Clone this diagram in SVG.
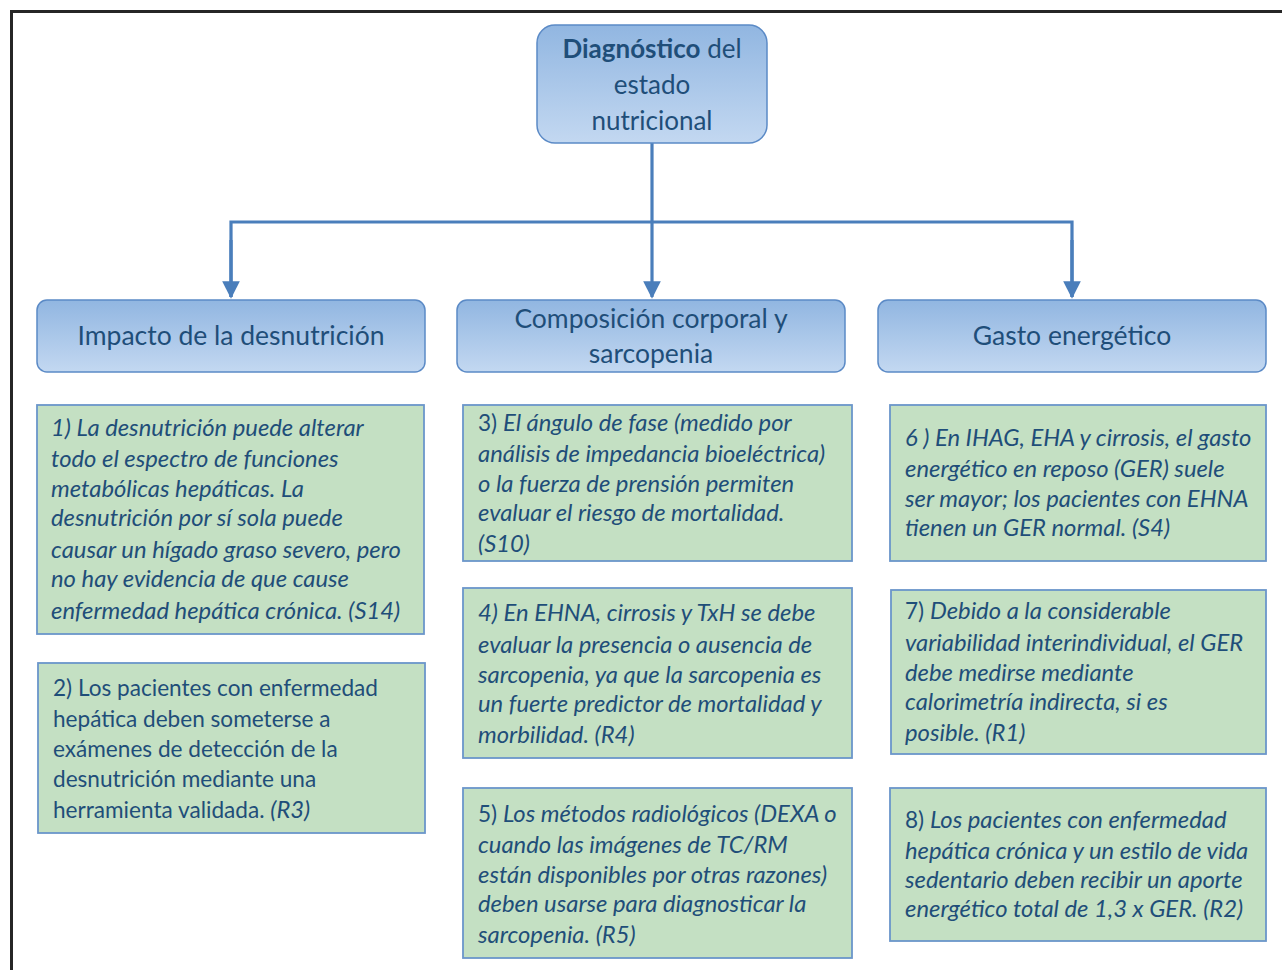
<svg xmlns="http://www.w3.org/2000/svg" width="1282" height="970" viewBox="0 0 1282 970">
<defs>
<linearGradient id="blueGrad" x1="0" y1="0" x2="0" y2="1">
<stop offset="0" stop-color="#91b6e1"/>
<stop offset="1" stop-color="#c3d8f1"/>
</linearGradient>
<marker id="arrow" viewBox="0 0 10 10" refX="9" refY="5" markerWidth="5.5" markerHeight="5.5" orient="auto" markerUnits="strokeWidth">
<path d="M0,0 L10,5 L0,10 z" fill="#4a7ebb"/>
</marker>
</defs>
<style>
.frame{fill:none;stroke:#262626;stroke-width:3}
.blue{fill:url(#blueGrad);stroke:#5b8ac6;stroke-width:1.5}
.green{fill:#c4e0c3;stroke:#6b96ca;stroke-width:1.8}
.conn{fill:none;stroke:#4a7ebb;stroke-width:3.2}
.t{font-family:Lato,"Open Sans","Liberation Sans",sans-serif;fill:#1f4e79}
.title{font-size:26px;text-anchor:middle}
.head{font-size:26.5px;text-anchor:middle}
.body{font-size:22.6px}
.i{font-style:italic;font-size:23.8px}
.b{font-weight:bold}
</style>
<rect x="0" y="0" width="1282" height="970" fill="#ffffff"/>
<path class="frame" d="M11.5,970 L11.5,11.5 L1282,11.5"/>

<g id="connectors">
<path class="conn" d="M652,143 L652,297" marker-end="url(#arrow)"/>
<path class="conn" d="M231,297 L231,222 L1072,222 L1072,297" />
<path class="conn" d="M231,240 L231,297" marker-end="url(#arrow)"/>
<path class="conn" d="M1072,240 L1072,297" marker-end="url(#arrow)"/>
</g>

<g id="root">
<rect class="blue" x="537" y="25" width="230" height="118" rx="18"/>
<text class="t title" x="652" y="58"><tspan class="b">Diagnóstico</tspan> del</text>
<text class="t title" x="652" y="94">estado</text>
<text class="t title" x="652" y="130">nutricional</text>
</g>

<g id="h1">
<rect class="blue" x="37" y="300" width="388" height="72" rx="10"/>
<text class="t head" x="231" y="345">Impacto de la desnutrición</text>
</g>
<g id="h2">
<rect class="blue" x="457" y="300" width="388" height="72" rx="10"/>
<text class="t head" x="651" y="328">Composición corporal y</text>
<text class="t head" x="651" y="363">sarcopenia</text>
</g>
<g id="h3">
<rect class="blue" x="878" y="300" width="388" height="72" rx="10"/>
<text class="t head" x="1072" y="345">Gasto energético</text>
</g>

<g id="n1">
<rect class="green" x="37" y="405" width="387" height="229"/>
<text class="t body i" x="51" y="436">1) La desnutrición puede alterar</text>
<text class="t body i" x="51" y="467">todo el espectro de funciones</text>
<text class="t body i" x="51" y="497">metabólicas hepáticas. La</text>
<text class="t body i" x="51" y="526">desnutrición por sí sola puede</text>
<text class="t body i" x="51" y="558">causar un hígado graso severo, pero</text>
<text class="t body i" x="51" y="587">no hay evidencia de que cause</text>
<text class="t body i" x="51" y="619">enfermedad hepática crónica. (S14)</text>
</g>

<g id="n2">
<rect class="green" x="38" y="663" width="387" height="170"/>
<text class="t body" x="53" y="696">2) Los pacientes con enfermedad</text>
<text class="t body" x="53" y="727">hepática deben someterse a</text>
<text class="t body" x="53" y="757">exámenes de detección de la</text>
<text class="t body" x="53" y="787">desnutrición mediante una</text>
<text class="t body" x="53" y="818">herramienta validada. <tspan class="i">(R3)</tspan></text>
</g>

<g id="n3">
<rect class="green" x="463" y="405" width="389" height="156"/>
<text class="t body" x="478" y="431">3) <tspan class="i">El ángulo de fase (medido por</tspan></text>
<text class="t body i" x="478" y="462">análisis de impedancia bioeléctrica)</text>
<text class="t body i" x="478" y="492">o la fuerza de prensión permiten</text>
<text class="t body i" x="478" y="521">evaluar el riesgo de mortalidad.</text>
<text class="t body i" x="478" y="552">(S10)</text>
</g>

<g id="n4">
<rect class="green" x="463" y="588" width="389" height="170"/>
<text class="t body i" x="478" y="621">4) En EHNA, cirrosis y TxH se debe</text>
<text class="t body i" x="478" y="653">evaluar la presencia o ausencia de</text>
<text class="t body i" x="478" y="683">sarcopenia, ya que la sarcopenia es</text>
<text class="t body i" x="478" y="712">un fuerte predictor de mortalidad y</text>
<text class="t body i" x="478" y="743">morbilidad. (R4)</text>
</g>

<g id="n5">
<rect class="green" x="463" y="788" width="389" height="170"/>
<text class="t body" x="478" y="822">5) <tspan class="i">Los métodos radiológicos (DEXA o</tspan></text>
<text class="t body i" x="478" y="853">cuando las imágenes de TC/RM</text>
<text class="t body i" x="478" y="883">están disponibles por otras razones)</text>
<text class="t body i" x="478" y="912">deben usarse para diagnosticar la</text>
<text class="t body i" x="478" y="943">sarcopenia. (R5)</text>
</g>

<g id="n6">
<rect class="green" x="890" y="405" width="376" height="156"/>
<text class="t body i" x="905" y="446">6 ) En IHAG, EHA y cirrosis, el gasto</text>
<text class="t body i" x="905" y="477">energético en reposo (GER) suele</text>
<text class="t body i" x="905" y="507">ser mayor; los pacientes con EHNA</text>
<text class="t body i" x="905" y="536">tienen un GER normal. (S4)</text>
</g>

<g id="n7">
<rect class="green" x="891" y="590" width="375" height="164"/>
<text class="t body" x="905" y="619">7) <tspan class="i">Debido a la considerable</tspan></text>
<text class="t body i" x="905" y="651">variabilidad interindividual, el GER</text>
<text class="t body i" x="905" y="681">debe medirse mediante</text>
<text class="t body i" x="905" y="710">calorimetría indirecta, si es</text>
<text class="t body i" x="905" y="741">posible. (R1)</text>
</g>

<g id="n8">
<rect class="green" x="890" y="788" width="376" height="153"/>
<text class="t body" x="905" y="828">8) <tspan class="i">Los pacientes con enfermedad</tspan></text>
<text class="t body i" x="905" y="859">hepática crónica y un estilo de vida</text>
<text class="t body i" x="905" y="888">sedentario deben recibir un aporte</text>
<text class="t body i" x="905" y="917">energético total de 1,3 x GER. (R2)</text>
</g>
</svg>
